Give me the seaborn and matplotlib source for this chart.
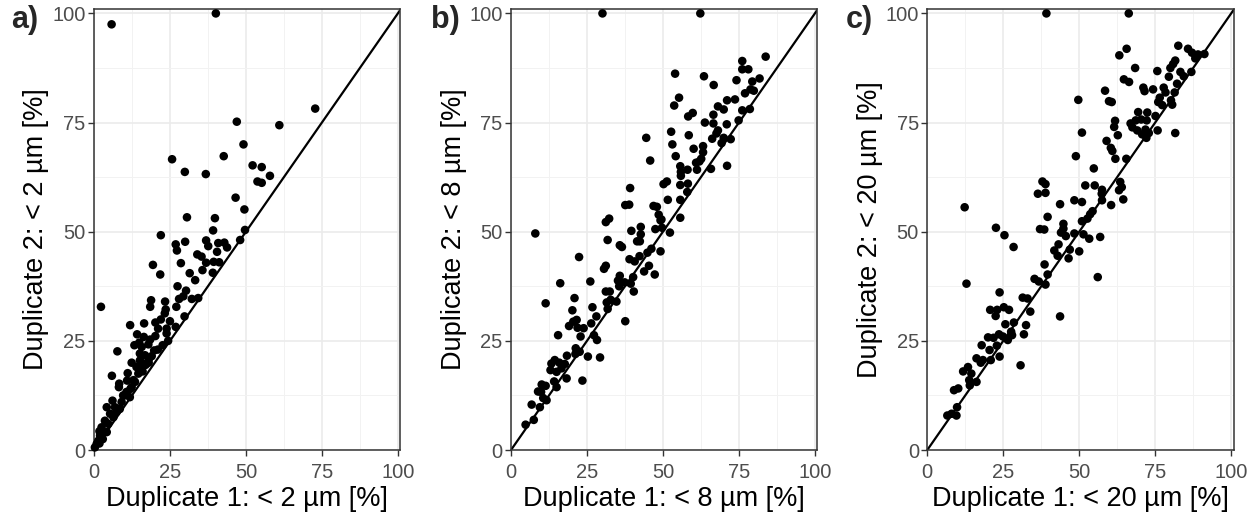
import matplotlib
matplotlib.use("Agg")
import matplotlib.pyplot as plt
import seaborn as sns
import pandas as pd
from matplotlib.ticker import MultipleLocator

# panel a: < 2 um
a_x = [5.8, 40.1, 72.8, 47.0, 61.0, 49.2, 25.7, 42.7, 52.2, 55.2, 57.9, 29.9, 36.8, 53.8, 55.2,
       46.6, 49.5, 30.6, 39.8, 39.2, 49.7,
       22.0, 48.1, 26.9, 30.0, 27.3, 36.9, 37.6, 40.9, 42.9, 43.8, 40.5, 34.0, 35.4, 28.6, 19.4,
       36.9, 39.4, 41.2, 35.7, 21.8, 31.5, 39.1, 33.3, 27.5, 30.3, 28.0, 29.4, 32.2, 34.3, 18.8,
       18.5, 23.4, 23.6, 27.1, 2.3, 23.3, 22.0, 25.0, 29.8, 11.9, 16.5, 20.2, 21.1, 23.9, 26.9,
       14.2, 16.4, 18.5, 20.2, 23.9, 24.4, 22.6, 13.3, 14.9, 15.7, 17.9, 19.8, 7.7, 15.1, 16.8,
       18.1, 12.4, 15.1, 16.2, 14.0, 15.7, 5.9, 11.1, 14.6, 8.3, 10.9, 8.2, 13.5, 12.4, 10.7,
       11.8, 9.6, 6.1, 9.1, 4.2, 6.9, 8.5, 7.4, 5.3, 6.4, 3.6, 4.7, 2.5, 1.8, 3.1, 4.2, 2.0, 2.9,
       1.4, 0.9, 0.3, 1.8, 13.0, 17.0, 19.0, 21.0, 10.0, 12.0, 16.0, 18.0]
a_y = [97.5, 100.0, 78.2, 75.2, 74.4, 70.0, 66.6, 67.3, 65.2, 64.8, 62.8, 63.7, 63.2, 61.5, 61.2,
       57.8, 55.1, 53.3, 53.1, 50.3, 50.4,
       49.2, 48.1, 47.1, 47.7, 45.7, 48.0, 46.7, 47.4, 47.5, 46.4, 45.4, 44.8, 44.3, 42.8, 42.4,
       42.9, 43.1, 43.0, 41.2, 40.2, 40.5, 40.6, 38.9, 37.5, 36.5, 34.6, 35.2, 34.6, 34.8, 34.3,
       32.8, 34.0, 32.2, 32.8, 32.8, 31.3, 29.9, 29.5, 30.6, 28.6, 29.0, 29.2, 27.8, 27.8, 28.2,
       26.5, 25.9, 25.3, 26.1, 26.7, 25.0, 24.0, 24.0, 24.6, 23.6, 24.2, 22.8, 22.6, 22.1, 21.7,
       20.9, 20.0, 20.5, 19.8, 19.0, 18.6, 17.0, 17.6, 17.5, 15.2, 15.9, 14.4, 15.6, 14.4, 13.3,
       12.1, 12.5, 11.3, 11.0, 9.8, 9.8, 9.4, 8.7, 8.3, 7.5, 6.7, 6.0, 5.2, 4.3, 4.1, 4.1, 3.3, 2.5,
       2.1, 1.4, 0.6, 1.5, 16.0, 19.5, 21.5, 23.0, 12.5, 14.0, 18.0, 20.0]

# panel b: < 8 um
b_x = [30.1, 62.3, 83.8, 76.1, 76.1, 78.1, 54.0, 63.5, 74.2, 81.8, 79.4, 66.7, 78.8, 79.9, 77.0,
       55.3, 71.1, 73.7, 53.7, 68.1, 70.0, 76.1, 78.6, 59.8, 58.3, 66.6, 74.9, 63.8, 66.6, 71.0,
       68.1, 52.7, 67.6, 58.5, 44.5, 66.2, 70.0, 72.3, 69.3, 53.1, 63.2, 60.1, 63.2, 54.2, 45.8,
       62.6, 60.9, 62.0, 55.7, 58.1, 61.2, 65.8, 71.1, 55.9, 55.9, 50.2, 51.3, 55.7, 58.2, 39.2,
       58.0, 51.6, 55.7, 37.6, 38.9, 46.9, 48.0, 48.6, 49.5, 55.7, 32.3, 31.2, 42.7, 47.5, 39.6,
       8.0, 49.2, 42.7, 42.4, 49.7, 52.3, 31.8, 35.8, 36.5, 41.5, 49.2, 44.9, 46.2, 42.3, 22.4,
       39.0, 40.7, 31.2, 30.6, 45.4, 43.8, 47.3, 16.2, 26.1, 35.8, 40.2, 35.2, 37.4, 35.6, 39.4,
       31.2, 32.5, 40.4, 20.9, 11.4, 31.5, 34.7, 32.8, 26.8, 20.2, 31.8, 28.1, 21.6, 20.5, 26.4,
       37.6, 19.1, 21.9, 23.9, 15.5, 22.9, 27.3, 28.3, 21.3, 22.6, 21.2, 25.3, 29.3, 18.4, 14.4,
       15.9, 17.7, 13.3, 13.0, 15.0, 16.6, 18.3, 23.5, 14.2, 15.0, 10.1, 11.4, 8.9, 9.9, 11.7,
       10.6, 6.8, 9.5, 7.5, 4.8]
b_y = [100.0, 100.0, 90.1, 89.1, 87.2, 87.2, 86.2, 85.6, 84.7, 85.1, 84.4, 83.6, 82.6, 82.3, 81.7,
       80.7, 80.1, 80.3, 78.9, 78.7, 78.0, 77.8, 78.1, 77.2, 76.4, 76.8, 75.5, 75.0, 74.8, 74.6,
       73.2, 72.9, 72.5, 72.1, 71.5, 71.3, 71.5, 71.2, 70.3, 70.0, 69.6, 69.0, 68.2, 67.3, 66.3,
       66.7, 65.8, 66.1, 65.0, 64.2, 64.2, 64.4, 65.1, 63.7, 62.8, 60.9, 61.5, 60.7, 61.0, 60.0,
       59.1, 57.3, 57.3, 56.1, 56.2, 55.9, 55.7, 53.9, 52.8, 53.2, 53.0, 52.2, 51.1, 50.6, 50.2,
       49.6, 52.6, 49.4, 47.8, 50.9, 49.8, 48.1, 46.9, 46.5, 47.8, 45.5, 45.2, 46.1, 44.4, 44.2,
       43.7, 43.2, 42.2, 41.5, 42.2, 40.9, 40.2, 38.2, 38.6, 39.9, 39.6, 38.8, 38.4, 37.5, 38.1,
       36.3, 36.3, 36.3, 34.8, 33.6, 33.8, 34.0, 34.4, 32.7, 32.0, 32.3, 30.6, 29.8, 29.4, 29.0,
       29.5, 28.4, 28.0, 27.9, 26.3, 26.0, 26.3, 25.2, 23.3, 22.5, 22.0, 21.4, 21.2, 21.6, 20.6,
       20.0, 19.7, 19.8, 18.3, 17.9, 18.7, 16.4, 15.9, 15.7, 14.4, 15.0, 14.7, 13.4, 13.3, 11.4,
       11.9, 10.4, 9.8, 6.9, 5.8]

# panel c: < 20 um
c_x = [39.2, 66.3, 82.6, 85.8, 65.6, 63.2, 87.1, 89.1, 91.2, 88.2, 81.6, 80.9, 80.0, 68.4, 75.7,
       83.3, 86.9, 84.4, 79.5, 64.7, 66.4, 82.2, 71.1, 74.3, 58.5, 71.5, 77.8, 78.4, 81.4, 76.5,
       59.8, 60.7, 49.7, 80.2, 76.0, 77.3, 80.6, 69.4, 72.4, 75.1, 61.8, 68.6, 70.4, 72.2, 66.9,
       61.5, 67.5, 69.1, 71.8, 72.9, 70.7, 72.1, 75.8, 81.6, 50.9, 62.7, 59.0, 60.4, 60.9, 48.9,
       61.9, 65.5, 54.8, 37.9, 38.9, 52.0, 55.1, 63.5, 64.0, 63.1, 57.5, 36.4, 38.9, 57.4, 64.5,
       48.4, 50.9, 57.5, 43.7, 60.5, 12.3, 39.6, 54.4, 53.6, 52.7, 50.9, 44.8, 44.8, 22.6, 37.1,
       25.4, 28.4, 38.5, 44.0, 45.6, 48.4, 51.4, 53.3, 56.9, 43.2, 41.8, 46.9, 50.0, 42.9, 46.5,
       38.6, 56.1, 12.9, 39.6, 35.3, 36.7, 38.9, 23.8, 31.4, 33.0, 20.7, 23.0, 25.2, 26.9, 22.5,
       33.9, 43.7, 25.7, 28.5, 32.5, 31.8, 20.0, 21.8, 23.6, 24.9, 26.5, 27.9, 27.6, 17.9, 20.5,
       22.9, 23.8, 16.2, 18.3, 20.9, 17.6, 30.7, 11.8, 13.4, 14.5, 16.2, 14.0, 13.8, 8.8, 10.2,
       9.8, 6.6, 8.0, 9.6]
c_y = [100.0, 100.0, 92.6, 91.9, 91.9, 90.4, 91.0, 90.6, 90.7, 89.7, 89.2, 88.4, 87.5, 87.5, 86.8,
       86.6, 86.6, 85.6, 85.5, 84.9, 84.3, 83.9, 83.0, 82.6, 82.3, 82.2, 83.0, 81.9, 81.9, 80.7,
       79.9, 79.7, 80.2, 80.1, 79.7, 79.0, 79.1, 77.4, 77.3, 76.5, 75.4, 75.5, 75.7, 75.5, 74.8,
       74.0, 73.9, 73.2, 73.4, 72.6, 72.3, 71.5, 73.2, 72.6, 72.7, 72.1, 70.8, 69.2, 68.5, 67.3,
       66.7, 66.7, 64.5, 61.5, 60.9, 60.6, 60.6, 61.4, 60.2, 59.5, 59.6, 58.7, 58.9, 58.7, 57.4,
       57.2, 56.8, 57.2, 56.3, 56.1, 55.6, 53.4, 54.7, 54.0, 53.0, 52.4, 51.8, 50.7, 50.9, 50.6,
       49.2, 46.5, 50.5, 49.8, 49.0, 49.6, 49.4, 48.4, 48.8, 47.1, 45.7, 45.9, 45.5, 44.5, 43.9,
       42.5, 39.6, 38.1, 40.2, 39.2, 38.6, 37.9, 36.1, 34.9, 34.7, 32.1, 32.1, 32.7, 32.1, 30.7,
       31.7, 30.6, 28.8, 29.2, 28.6, 26.5, 25.8, 25.7, 26.5, 26.0, 25.2, 26.3, 27.1, 24.0, 22.9,
       23.9, 21.4, 21.0, 20.6, 20.6, 20.0, 19.4, 18.0, 19.0, 17.5, 15.6, 14.8, 16.0, 13.7, 14.1,
       9.8, 7.9, 8.3, 7.9]

panel_tags = ["a)", "b)", "c)"]
size_classes = ["2", "8", "20"]

sns.set_theme(style="white")
plt.rcParams["font.family"] = ["Liberation Sans", "DejaVu Sans"]

fig = plt.figure(figsize=(12.58, 5.2), dpi=100)
lefts = [0.0747, 0.4062, 0.7371]
tag_x = [0.009, 0.343, 0.672]

for i, (xs, ys) in enumerate([(a_x, a_y), (b_x, b_y), (c_x, c_y)]):
    ax = fig.add_axes([lefts[i], 0.1346, 0.2435, 0.848])
    df = pd.DataFrame({"d1": xs, "d2": ys})

    ax.xaxis.set_major_locator(MultipleLocator(25))
    ax.yaxis.set_major_locator(MultipleLocator(25))
    ax.xaxis.set_minor_locator(MultipleLocator(12.5))
    ax.yaxis.set_minor_locator(MultipleLocator(12.5))
    ax.grid(which="major", color="#EBEBEB", linewidth=1.2)
    ax.grid(which="minor", color="#F2F2F2", linewidth=0.7)
    ax.set_axisbelow(True)

    ax.axline((0, 0), slope=1, color="black", linewidth=1.6, zorder=2)
    sns.scatterplot(data=df, x="d1", y="d2", ax=ax, color="black", s=38,
                    edgecolor="none", zorder=3, clip_on=False)

    ax.set_xlim(0, 100.8)
    ax.set_ylim(0, 101)
    for sp in ax.spines.values():
        sp.set_color("#333333")
        sp.set_linewidth(1.1)
    ax.tick_params(which="major", length=4, width=1.0, color="#333333",
                   labelsize=14.5, labelcolor="#4D4D4D", pad=2, bottom=True, left=True)
    ax.tick_params(axis="x", which="major", pad=5)
    ax.tick_params(which="minor", length=0)

    n = size_classes[i]
    ax.set_xlabel(f"Duplicate 1: < {n} µm [%]", fontsize=19.5, color="black", labelpad=3)
    ax.set_ylabel(f"Duplicate 2: < {n} µm [%]", fontsize=19.5, color="black", labelpad=2)

    fig.text(tag_x[i], 0.99, panel_tags[i], fontsize=22, fontweight="bold", va="top")

fig.savefig("out.png", dpi=100)
